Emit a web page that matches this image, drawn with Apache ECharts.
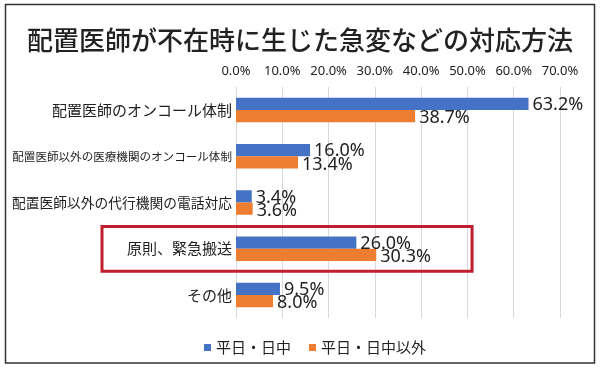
<!DOCTYPE html>
<html>
<head>
<meta charset="utf-8">
<script src="https://cdn.jsdelivr.net/npm/echarts@6/dist/echarts.min.js"></script>
<style>
html,body{margin:0;padding:0;background:#fff;}
#c{width:600px;height:372px;}
</style>
</head>
<body>
<div id="c"></div>
<script>
const titleText = '配置医師が不在時に生じた急変などの対応方法';
const categories = [
  '配置医師のオンコール体制',
  '配置医師以外の医療機関のオンコール体制',
  '配置医師以外の代行機関の電話対応',
  '原則、緊急搬送',
  'その他'
];
const seriesNames = ['平日・日中', '平日・日中以外'];
const weekdayDay = [63.2, 16.0, 3.4, 26.0, 9.5];
const otherTimes = [38.7, 13.4, 3.6, 30.3, 8.0];
const highlightCategory = '原則、緊急搬送';

const FONT = '"Noto Sans CJK JP", "Noto Sans", sans-serif';
const chart = echarts.init(document.getElementById('c'), null, {renderer: 'canvas'});

function labelSize(s) {
  return Math.min(15, 220 / s.length);
}
const rich = {};
categories.forEach((c, i) => {
  rich['r' + i] = {fontSize: labelSize(c), fontFamily: FONT, color: '#222'};
});

const dataLabel = {
  show: true,
  position: 'right',
  distance: 4,
  fontFamily: '"Noto Sans", sans-serif',
  fontSize: 18,
  color: '#222',
  formatter: p => p.value.toFixed(1) + '%'
};

chart.setOption({
  backgroundColor: '#fff',
  animation: false,
  title: {
    text: titleText,
    left: 'center',
    top: 22,
    textStyle: {fontFamily: FONT, fontSize: 26, fontWeight: 500, color: '#222'}
  },
  legend: {
    data: seriesNames,
    left: 199,
    top: 335,
    icon: 'rect',
    itemWidth: 7,
    itemHeight: 7,
    itemGap: 18,
    textStyle: {fontFamily: FONT, fontSize: 15, color: '#222'}
  },
  grid: {left: 236, right: 40, top: 87, bottom: 54, containLabel: false},
  xAxis: {
    type: 'value',
    position: 'top',
    min: 0,
    max: 70,
    interval: 10,
    axisLine: {show: false},
    axisTick: {show: false},
    axisLabel: {
      margin: 9,
      fontFamily: '"Noto Sans", sans-serif',
      fontSize: 13,
      color: '#222',
      formatter: v => v.toFixed(1) + '%'
    },
    splitLine: {show: true, lineStyle: {color: '#d9d9d9', width: 1}}
  },
  yAxis: {
    type: 'category',
    data: categories,
    inverse: true,
    axisLine: {show: false},
    axisTick: {show: false},
    axisLabel: {
      margin: 4,
      formatter: (v) => '{r' + categories.indexOf(v) + '|' + v + '}',
      rich: rich
    }
  },
  series: [
    {
      name: seriesNames[0],
      type: 'bar',
      data: weekdayDay,
      itemStyle: {color: '#4472c4'},
      barGap: '0%',
      barCategoryGap: '47%',
      label: Object.assign({}, dataLabel, {offset: [0, 1]})
    },
    {
      name: seriesNames[1],
      type: 'bar',
      data: otherTimes,
      itemStyle: {color: '#ed7d31'},
      barGap: '0%',
      barCategoryGap: '47%',
      label: Object.assign({}, dataLabel, {offset: [0, 2]})
    }
  ]
});

// annotation: outer frame and highlight box around the emphasised category
const idx = categories.indexOf(highlightCategory);
const yc = chart.convertToPixel({yAxisIndex: 0}, idx);
const y0 = chart.convertToPixel({yAxisIndex: 0}, 0);
const y1 = chart.convertToPixel({yAxisIndex: 0}, 1);
const band = Math.abs(y1 - y0);
const xRight = chart.convertToPixel({xAxisIndex: 0}, 51);

chart.setOption({
  graphic: [
    {
      type: 'rect',
      shape: {x: 5.5, y: 4.5, width: 589, height: 358.5},
      style: {fill: 'none', stroke: '#333', lineWidth: 1.5},
      silent: true
    },
    {
      type: 'rect',
      shape: {x: 102, y: yc - band / 2 + 1, width: xRight - 102, height: band - 1.5},
      style: {fill: 'none', stroke: '#be1e2d', lineWidth: 3},
      silent: true,
      z: 100
    }
  ]
});
</script>
</body>
</html>
